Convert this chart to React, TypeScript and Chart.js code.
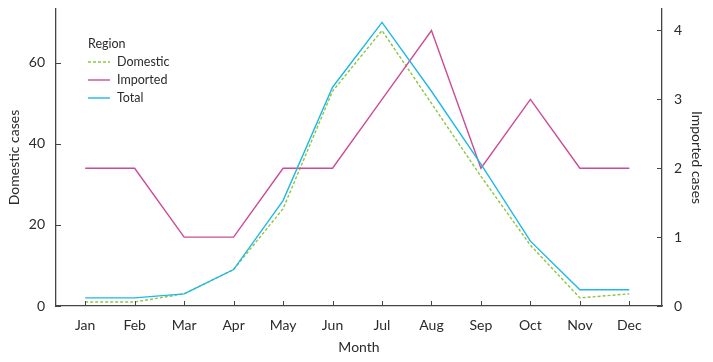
import React, { useEffect, useRef } from "react";
import { Chart, registerables } from "chart.js";

Chart.register(...registerables);

const months = ["Jan", "Feb", "Mar", "Apr", "May", "Jun", "Jul", "Aug", "Sep", "Oct", "Nov", "Dec"];
const domestic = [1, 1, 3, 9, 24, 53, 68, 50, 32, 15, 2, 3];
const imported = [2, 2, 1, 1, 2, 2, 3, 4, 2, 3, 2, 2];
const total = [2, 2, 3, 9, 26, 54, 70, 53, 35, 16, 4, 4];
const legendTitle = "Region";
const seriesNames = ["Domestic", "Imported", "Total"];
const leftTitle = "Domestic cases";
const rightTitle = "Imported cases";
const xTitle = "Month";

const FONT = "Lato";
const TEXT = "#2b2b2b";
const AXIS = "#444";

const pts = (arr: number[]) => arr.map((v, i) => ({ x: i, y: v }));

const innerTicks = {
  id: "innerTicks",
  afterDraw(chart: any) {
    const ctx = chart.ctx;
    const { x, y, y1 } = chart.scales;
    ctx.save();
    ctx.strokeStyle = AXIS;
    ctx.lineWidth = 1;
    const len = 5;
    y.ticks.forEach((t: any) => {
      const py = Math.round(y.getPixelForValue(t.value)) + 0.5;
      ctx.beginPath();
      ctx.moveTo(y.right, py);
      ctx.lineTo(y.right + len, py);
      ctx.stroke();
    });
    y1.ticks.forEach((t: any) => {
      const py = Math.round(y1.getPixelForValue(t.value)) + 0.5;
      ctx.beginPath();
      ctx.moveTo(y1.left, py);
      ctx.lineTo(y1.left - len, py);
      ctx.stroke();
    });
    x.ticks.forEach((t: any) => {
      const px = Math.round(x.getPixelForValue(t.value)) + 0.5;
      ctx.beginPath();
      ctx.moveTo(px, x.top);
      ctx.lineTo(px, x.top - len);
      ctx.stroke();
    });
    ctx.restore();
  },
};

const customLegend = {
  id: "customLegend",
  afterDraw(chart: any) {
    const ctx = chart.ctx;
    const left = chart.chartArea.left + 32;
    const top = chart.chartArea.top + 35;
    ctx.save();
    ctx.font = `12.5px ${FONT}`;
    ctx.fillStyle = TEXT;
    ctx.textBaseline = "middle";
    ctx.textAlign = "left";
    ctx.fillText(legendTitle, left, top);
    chart.data.datasets.forEach((ds: any, i: number) => {
      const yy = top + 18 * (i + 1);
      ctx.strokeStyle = ds.borderColor;
      ctx.lineWidth = 1.4;
      ctx.setLineDash(ds.borderDash || []);
      ctx.beginPath();
      ctx.moveTo(left, yy);
      ctx.lineTo(left + 22, yy);
      ctx.stroke();
      ctx.setLineDash([]);
      ctx.fillText(ds.label, left + 29, yy);
    });
    ctx.restore();
  },
};

export default function App() {
  const ref = useRef<HTMLCanvasElement>(null);
  useEffect(() => {
    document.body.style.margin = "0";
    const yMax = 73.3;
    const ratio = 17;
    const chart = new Chart(ref.current!, {
      type: "line",
      data: {
        datasets: [
          {
            label: seriesNames[0],
            data: pts(domestic),
            borderColor: "#8dc63f",
            borderDash: [3, 2],
            borderWidth: 1.4,
            pointRadius: 0,
            yAxisID: "y",
            tension: 0,
            order: 2,
          },
          {
            label: seriesNames[1],
            data: pts(imported),
            borderColor: "#cc4b97",
            borderWidth: 1.4,
            pointRadius: 0,
            yAxisID: "y1",
            tension: 0,
            order: 1,
          },
          {
            label: seriesNames[2],
            data: pts(total),
            borderColor: "#1fb8e8",
            borderWidth: 1.4,
            pointRadius: 0,
            yAxisID: "y",
            tension: 0,
            order: 0,
          },
        ],
      },
      options: {
        responsive: false,
        animation: false,
        layout: { padding: { top: 9, left: 0, right: 0, bottom: 0 } },
        plugins: { legend: { display: false }, tooltip: { enabled: false } },
        scales: {
          x: {
            type: "linear",
            min: -0.59,
            max: 11.66,
            grid: { display: false, drawTicks: false },
            border: { display: true, color: AXIS, width: 1.3 },
            ticks: {
              stepSize: 1,
              includeBounds: false,
              autoSkip: false,
              maxRotation: 0,
              padding: 11,
              color: TEXT,
              font: { family: FONT, size: 14 },
              callback: (v: any) => (Number.isInteger(v) ? months[v] : ""),
            },
            title: {
              display: true,
              text: xTitle,
              color: TEXT,
              font: { family: FONT, size: 14 },
              padding: { top: 0, bottom: 6.6 },
            },
            afterFit: (s: any) => {
              s.height = 56;
              s.paddingLeft = 0;
              s.paddingRight = 0;
            },
          },
          y: {
            position: "left",
            min: 0,
            max: yMax,
            grid: { display: false, drawTicks: false },
            border: { display: true, color: AXIS, width: 1.3 },
            ticks: {
              stepSize: 20,
              includeBounds: false,
              padding: 11,
              color: TEXT,
              font: { family: FONT, size: 14 },
            },
            title: {
              display: true,
              text: leftTitle,
              color: TEXT,
              font: { family: FONT, size: 14 },
              padding: { top: 5.6, bottom: 0 },
            },
            afterFit: (s: any) => {
              s.width = 56;
              s.paddingTop = 0;
              s.paddingBottom = 0;
            },
          },
          y1: {
            position: "right",
            min: 0,
            max: yMax / ratio,
            grid: { display: false, drawTicks: false },
            border: { display: true, color: AXIS, width: 1.3 },
            ticks: {
              stepSize: 1,
              includeBounds: false,
              padding: 12,
              color: TEXT,
              font: { family: FONT, size: 14 },
            },
            title: {
              display: true,
              text: rightTitle,
              color: TEXT,
              font: { family: FONT, size: 14 },
              padding: { top: 7.6, bottom: 0 },
            },
            afterFit: (s: any) => {
              s.width = 51;
              s.paddingTop = 0;
              s.paddingBottom = 0;
            },
          },
        },
      },
      plugins: [innerTicks, customLegend],
    });
    return () => chart.destroy();
  }, []);
  return (
    <div style={{ position: "fixed", left: 0, top: 0, width: 713, height: 362 }}>
      <canvas ref={ref} width={713} height={362} />
    </div>
  );
}
